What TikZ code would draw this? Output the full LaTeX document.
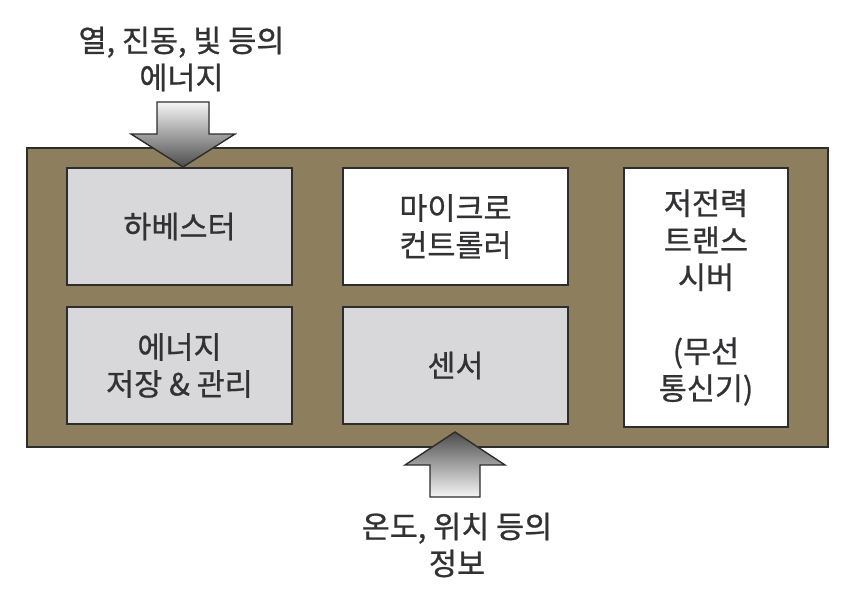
\documentclass[tikz,border=0pt]{standalone}
\usepackage{fontspec}
\setmainfont[FakeBold=0.8]{Noto Sans CJK KR}
\usetikzlibrary{positioning}
\definecolor{outerfill}{RGB}{141,127,94}
\definecolor{boxgray}{RGB}{216,216,218}
\definecolor{linedark}{RGB}{45,45,45}
\definecolor{txt}{RGB}{50,50,52}
\tikzset{
  blockbox/.style={draw=linedark, line width=1.6pt, minimum width=225pt, minimum height=117pt, inner sep=0pt, align=center, text=txt, font=\fontsize{30.5}{37}\selectfont},
  graybox/.style={blockbox, fill=boxgray},
  whitebox/.style={blockbox, fill=white},
  lbl/.style={align=center, text=txt, font=\fontsize{30.5}{37}\selectfont, inner sep=0pt},
  bigarrow/.style={draw=linedark, line width=1.4pt, line join=miter}
}
\begin{document}
\begin{tikzpicture}[x=1pt,y=-1pt]
\useasboundingbox (0,0) rectangle (856,610);
% outer frame
\node[draw=linedark, line width=1.8pt, fill=outerfill, minimum width=801pt, minimum height=299pt, inner sep=0pt] (frame) at (427.5,297.5) {};
% inner blocks
\node[graybox] (harv) at (179.5,226.5) {하베스터};
\node[whitebox] (mcu) at (455.5,226.5) {마이크로\\컨트롤러};
\node[graybox] (store) at (179.5,365.5) {에너지\\저장 \& 관리};
\node[graybox] (sensor) at (455.5,365.5) {센서};
\node[whitebox, minimum width=164pt, minimum height=259pt] (trx) at (706,297.5) {저전력\\트랜스\\시버\\[37pt](무선\\통신기)};
% labels
\node[lbl] (toplbl) at (181.5,59) {열, 진동, 빛 등의\\에너지};
\node[lbl] (botlbl) at (457,545) {온도, 위치 등의\\정보};
% top arrow (pointing down)
\coordinate (ta) at (183,102);
\path[bigarrow, top color=white!92!gray, bottom color=black!70]
  ([xshift=-26pt]ta) -- ([xshift=26pt]ta) -- ([xshift=26pt,yshift=-32pt]ta)
  -- ([xshift=52pt,yshift=-32pt]ta) -- ([yshift=-65pt]ta) -- ([xshift=-52pt,yshift=-32pt]ta)
  -- ([xshift=-26pt,yshift=-32pt]ta) -- cycle;
% bottom arrow (pointing up)
\coordinate (ba) at (455,497);
\path[bigarrow, top color=black!70, bottom color=white!92!gray]
  ([xshift=-25pt]ba) -- ([xshift=25pt]ba) -- ([xshift=25pt,yshift=32pt]ba)
  -- ([xshift=50pt,yshift=32pt]ba) -- ([yshift=65pt]ba) -- ([xshift=-50pt,yshift=32pt]ba)
  -- ([xshift=-25pt,yshift=32pt]ba) -- cycle;
\end{tikzpicture}
\end{document}
